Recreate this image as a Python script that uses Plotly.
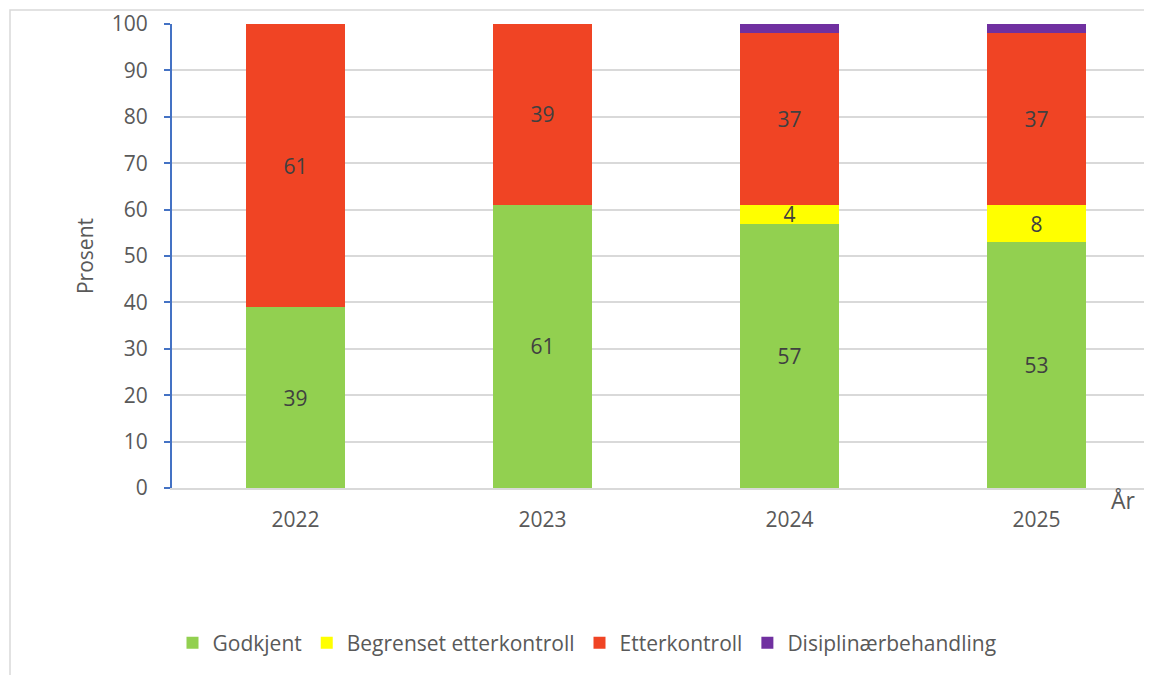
import plotly.graph_objects as go

years = ["2022", "2023", "2024", "2025"]
godkjent = [39, 61, 57, 53]
begrenset = [0, 0, 4, 8]
etterkontroll = [61, 39, 37, 37]
disiplinaer = [0, 0, 2, 2]

series = [
    ("Godkjent", godkjent, "#92D050", True),
    ("Begrenset etterkontroll", begrenset, "#FFFF00", True),
    ("Etterkontroll", etterkontroll, "#F04424", True),
    ("Disiplinærbehandling", disiplinaer, "#7030A0", False),
]

FONT = "Open Sans"
FS = 21
fig = go.Figure()
for name, vals, color, show_lbl in series:
    texts = [str(v) if (show_lbl and v > 0) else "" for v in vals]
    fig.add_trace(go.Bar(
        name=name, x=years, y=vals, marker=dict(color=color, line=dict(width=0)),
        text=texts, textposition="inside", insidetextanchor="middle",
        textangle=0, constraintext="none",
        textfont=dict(size=FS, color="#404040", family=FONT),
        width=0.4, hoverinfo="x+y+name",
    ))

# page offset (browser body margin) = 8px
OFF = 8
W, H = 1152, 675
L, T, B = 172 - OFF, 24 - OFF, H - (488 - OFF)
pw = W - L
ph = H - T - B


def px(x):  # page x -> paper
    return (x - OFF - L) / pw


def py(y):  # page y -> paper
    return (H - B - (y - OFF)) / ph


fig.update_layout(
    width=W, height=H,
    barmode="stack",
    margin=dict(l=L, r=0, t=T, b=B, autoexpand=False),
    plot_bgcolor="white", paper_bgcolor="white",
    font=dict(family=FONT, size=FS, color="#595959"),
    showlegend=True,
    legend=dict(orientation="h", x=px(587), y=py(643), xanchor="center", yanchor="middle",
                font=dict(size=FS, color="#595959", family=FONT), traceorder="normal",
                itemwidth=30),
    xaxis=dict(range=[-0.5, pw / 247 - 0.5], showgrid=False, showline=True,
               linecolor="#D9D9D9", linewidth=1.5, ticks="", ticklabelstandoff=12,
               tickfont=dict(size=FS, color="#595959"), fixedrange=True),
    yaxis=dict(range=[0, 100], dtick=10, showgrid=True, gridcolor="#D9D9D9", gridwidth=1.5,
               showline=True, linecolor="#4472C4", linewidth=2, ticks="outside",
               tickcolor="#4472C4", ticklen=6, tickwidth=2, ticklabelstandoff=12,
               tickfont=dict(size=FS, color="#595959"), zeroline=False,
               title=dict(text="Prosent", font=dict(size=FS, color="#595959"), standoff=12)),
)

fig.add_annotation(text="År", xref="paper", yref="paper", x=px(1123), y=py(500),
                   showarrow=False, font=dict(size=23, color="#595959", family=FONT),
                   xanchor="center", yanchor="middle")

# outer chart frame
fig.add_shape(type="rect", xref="paper", yref="paper",
              x0=px(10), x1=px(1170), y0=py(690), y1=py(10),
              line=dict(color="#D9D9D9", width=1.5), fillcolor="rgba(0,0,0,0)", layer="below")

fig.write_html("out.html")
